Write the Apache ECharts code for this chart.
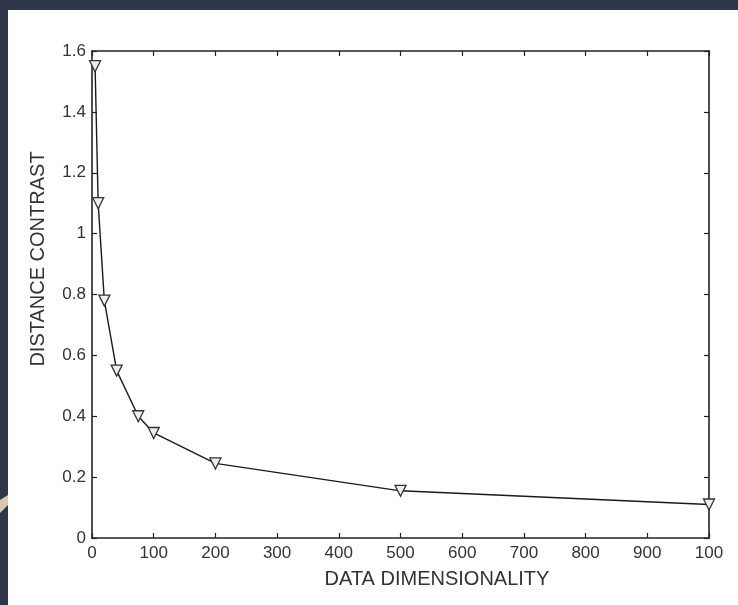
<!DOCTYPE html>
<html>
<head>
<meta charset="utf-8">
<script src="https://cdn.jsdelivr.net/npm/echarts@6/dist/echarts.min.js"></script>
<style>
html,body{margin:0;padding:0;background:#ffffff;}
#chart{width:738px;height:605px;}
</style>
</head>
<body>
<div id="chart"></div>
<script>
// Data
var dimensions = [5, 10, 20, 40, 75, 100, 200, 500, 1000];
var contrast = [1.55, 1.10, 0.78, 0.55, 0.40, 0.345, 0.245, 0.155, 0.11];
var xTickValues = [0, 100, 200, 300, 400, 500, 600, 700, 800, 900, 1000];
var xTickLabels = ['0', '100', '200', '300', '400', '500', '600', '700', '800', '900', '100'];
var yTickValues = [0, 0.2, 0.4, 0.6, 0.8, 1.0, 1.2, 1.4, 1.6];
var yTickLabels = ['0', '0.2', '0.4', '0.6', '0.8', '1', '1.2', '1.4', '1.6'];
var xTitle = 'DATA DIMENSIONALITY';
var yTitle = 'DISTANCE CONTRAST';

var points = dimensions.map(function (d, i) { return [d, contrast[i]]; });

function labelFor(values, labels) {
  return function (v) {
    for (var i = 0; i < values.length; i++) {
      if (Math.abs(values[i] - v) < 1e-6) return labels[i];
    }
    return '';
  };
}

var FONT = 'Liberation Sans, Arial, Helvetica, sans-serif';
var TEXT = '#333';
var axisLine = { show: true, onZero: false, lineStyle: { color: '#222', width: 1.6 } };
var axisTick = { show: true, inside: true, length: 5, lineStyle: { color: '#222', width: 1.2 } };

var chart = echarts.init(document.getElementById('chart'), null, { renderer: 'canvas' });
chart.setOption({
  backgroundColor: '#ffffff',
  animation: false,
  grid: { left: 92, right: 29, top: 51, bottom: 67, containLabel: false },
  xAxis: [{
    type: 'value', position: 'bottom', min: 0, max: 1000, interval: 100,
    axisLine: axisLine, axisTick: axisTick, splitLine: { show: false },
    axisLabel: { color: TEXT, fontSize: 17, fontFamily: FONT, margin: 7,
      formatter: labelFor(xTickValues, xTickLabels) }
  }, {
    type: 'value', position: 'top', min: 0, max: 1000, interval: 100,
    axisLine: axisLine, axisTick: axisTick, splitLine: { show: false },
    axisLabel: { show: false }
  }],
  yAxis: [{
    type: 'value', position: 'left', min: 0, max: 1.6, interval: 0.2,
    axisLine: axisLine, axisTick: axisTick, splitLine: { show: false },
    axisLabel: { color: TEXT, fontSize: 17, fontFamily: FONT, margin: 6,
      formatter: labelFor(yTickValues, yTickLabels) }
  }, {
    type: 'value', position: 'right', min: 0, max: 1.6, interval: 0.2,
    axisLine: axisLine, axisTick: axisTick, splitLine: { show: false },
    axisLabel: { show: false }
  }],
  series: [{
    type: 'line',
    xAxisIndex: 0, yAxisIndex: 0,
    data: points,
    symbol: 'triangle',
    symbolRotate: 180,
    symbolSize: 11,
    showAllSymbol: true,
    lineStyle: { color: '#1a1a1a', width: 1.4 },
    itemStyle: { color: '#eeeeee', borderColor: '#333', borderWidth: 1.3 },
    z: 3
  }],
  graphic: [
    { type: 'rect', left: 0, top: 0, shape: { width: 738, height: 10 }, style: { fill: '#2e364a' }, z: 100 },
    { type: 'rect', left: 0, top: 0, shape: { width: 8, height: 605 }, style: { fill: '#2e364a' }, z: 100 },
    { type: 'polygon', shape: { points: [[0, 500], [8, 495], [8, 505], [0, 513]] }, style: { fill: '#d9c6b2' }, z: 101 },
    { type: 'text', x: 437, y: 579, style: { text: xTitle, fill: TEXT, font: '20px ' + FONT, align: 'center', verticalAlign: 'middle' } },
    { type: 'text', x: 38, y: 259, rotation: Math.PI / 2, style: { text: yTitle, fill: TEXT, font: '20px ' + FONT, align: 'center', verticalAlign: 'middle' } }
  ]
});
</script>
</body>
</html>
